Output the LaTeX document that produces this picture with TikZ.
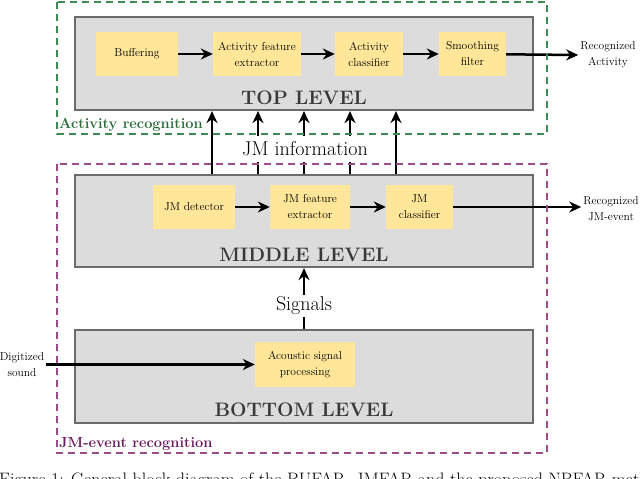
\documentclass[tikz,border=0pt]{standalone}
\usetikzlibrary{arrows.meta,calc}
\definecolor{boxyellow}{HTML}{FFE699}
\definecolor{levelfill}{HTML}{DCDCDC}
\definecolor{levelborder}{HTML}{6B6B6B}
\definecolor{levtext}{HTML}{383838}
\definecolor{greendash}{HTML}{3D8B52}
\definecolor{greentext}{HTML}{2A6B38}
\definecolor{purpledash}{HTML}{9B4A8C}
\definecolor{purpletext}{HTML}{6A1A5E}
\begin{document}
\begin{tikzpicture}[x=1pt,y=-1pt,
  levelbox/.style={draw=levelborder,fill=levelfill,line width=2.2pt,minimum width=458pt,inner sep=0pt},
  blockbox/.style={fill=boxyellow,inner sep=0pt,minimum height=44pt,align=center,font=\fontsize{11.5}{16}\selectfont},
  leveltext/.style={anchor=base,text=levtext,font=\fontsize{19.5}{22}\selectfont\bfseries},
  outlabel/.style={align=center,font=\fontsize{11.5}{16}\selectfont,inner sep=2pt},
  arr/.style={line width=2.5pt,-{Stealth[length=12pt,width=11pt]}},
  groupbox/.style={line width=2pt,dash pattern=on 7pt off 5pt},
  grouptext/.style={anchor=base west,inner sep=0pt,font=\fontsize{14.6}{18}\selectfont\bfseries},
  bigtext/.style={font=\fontsize{20}{24}\selectfont,fill=white,inner sep=2pt}]
\useasboundingbox (0,0) rectangle (640,479);
\clip (0,0) rectangle (640,479);

% level boxes
\node[levelbox,minimum height=93pt] (top) at (304,63.5) {};
\node[levelbox,minimum height=92pt] (mid) at (304,221) {};
\node[levelbox,minimum height=93pt] (bot) at (304,376.5) {};

\node[leveltext] (toplab) at (304,104) {TOP LEVEL};
\node[leveltext] (midlab) at (304,261) {MIDDLE LEVEL};
\node[leveltext] (botlab) at (304,416) {BOTTOM LEVEL};

% top blocks
\node[blockbox,minimum width=82pt] (buf) at (137,54) {Buffering};
\node[blockbox,minimum width=88pt] (afe) at (257,54) {Activity feature\\extractor};
\node[blockbox,minimum width=68pt] (acl) at (369,54) {Activity\\classifier};
\node[blockbox,minimum width=67pt] (smf) at (472.5,54) {Smoothing\\filter};
\node[outlabel] (recact) at (608,55) {Recognized\\Activity};

\draw[arr] (buf) -- (afe);
\draw[arr] (afe) -- (acl);
\draw[arr] (acl) -- (smf);
\draw[arr] (smf) -- (recact.west);

% middle blocks
\node[blockbox,minimum width=82pt] (jmd) at (194,207) {JM detector};
\node[blockbox,minimum width=80pt] (jmf) at (310,207) {JM feature\\extractor};
\node[blockbox,minimum width=67pt] (jmc) at (419.5,207) {JM\\classifier};
\node[outlabel] (recjm) at (611,209) {Recognized\\JM-event};

\draw[arr] (jmd) -- (jmf);
\draw[arr] (jmf) -- (jmc);
\draw[arr] (jmc) -- (recjm.west |- jmc.east);

% bottom block
\node[blockbox,minimum width=100pt,minimum height=45pt] (asp) at (305,364.5) {Acoustic signal\\processing};
\node[outlabel] (dig) at (22,365) {Digitized\\sound};
\draw[arr] (dig.east |- asp.west) -- (asp.west);

% JM information arrows
\foreach \dx in {-92,-46,0,46,92}{
  \draw[arr] ([xshift=\dx pt]mid.north) -- ([xshift=\dx pt]top.south);
}
\node[bigtext,minimum height=26pt] (jminfo) at (305,148.5) {JM information};

% signals arrow
\draw[arr] (bot.north) -- (mid.south);
\node[bigtext,minimum height=22pt] (sig) at (304,306) {Signals};

% group boxes
\draw[groupbox,draw=greendash] (57,2) rectangle (547,134);
\node[grouptext,text=greentext] (actrec) at (59,128.5) {Activity recognition};
\draw[groupbox,draw=purpledash] (57,164) rectangle (547,453);
\node[grouptext,text=purpletext] (jmrec) at (59,447.5) {JM-event recognition};

% caption (cut off at the bottom edge, as in the reference)
\node[anchor=base west,inner sep=0pt,font=\fontsize{18}{21}\selectfont] (caption) at (-1,485) {Figure 1: General block diagram of the BUFAR, JMFAR and the proposed NBFAR method.};
\end{tikzpicture}
\end{document}
